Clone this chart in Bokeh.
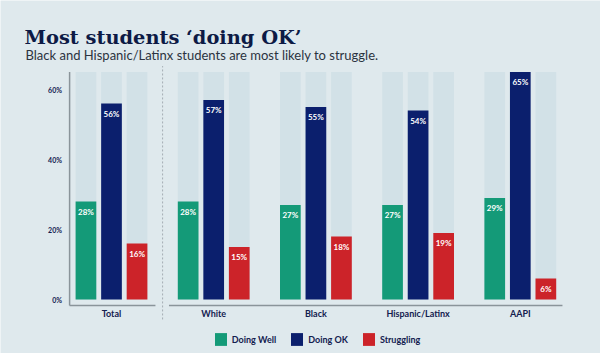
from bokeh.plotting import figure
from bokeh.models import Label, Legend, LegendItem, Range1d
from bokeh.core.properties import value
from bokeh.embed import file_html
from bokeh.resources import INLINE

# ---- data ----
groups = ["Total", "White", "Black", "Hispanic/Latinx", "AAPI"]
doing_well = [28, 28, 27, 27, 29]
doing_ok = [56, 57, 55, 54, 65]
struggling = [16, 15, 18, 19, 6]
series_names = ["Doing Well", "Doing OK", "Struggling"]
y_ticks = [0, 20, 40, 60]
y_tick_labels = ["0%", "20%", "40%", "60%"]
track_max = 65
title_text = "Most students \u2018doing OK\u2019"
subtitle_text = "Black and Hispanic/Latinx students are most likely to struggle."

# ---- style ----
BG = "#dfe9ed"
TRACK = "#d2e1e7"
NAVY_TXT = "#13204f"
colors = ["#149a78", "#0b1f6d", "#cc2329"]
SANS = "Lato"
W, H = 600, 353
PX_X = 25.55      # px per x unit
PX_Y = 3.5        # px per percentage point
X0_PX = 111       # px position of first group center
Y0_PX = 299       # px position of 0%

p = figure(width=W, height=H, output_backend="svg", toolbar_location=None,
           x_range=Range1d(-X0_PX / PX_X, (W - X0_PX) / PX_X),
           y_range=Range1d(-(H - Y0_PX) / PX_Y, Y0_PX / PX_Y),
           x_axis_type=None, y_axis_type=None,
           min_border=0, min_border_left=0, min_border_right=0,
           min_border_top=0, min_border_bottom=0)
p.outline_line_color = None
p.background_fill_color = BG
p.border_fill_color = BG

centers = [4 * i for i in range(len(groups))]
offsets = [-1, 0, 1]
bw = 0.81
series = [doing_well, doing_ok, struggling]

# tracks
for off in offsets:
    p.vbar(x=[c + off for c in centers], top=[track_max] * len(centers), bottom=0,
           width=bw, fill_color=TRACK, line_color=None)

renderers = []
for off, vals, col in zip(offsets, series, colors):
    xs = [c + off for c in centers]
    r = p.vbar(x=xs, top=vals, bottom=0, width=bw, fill_color=col, line_color=None)
    renderers.append(r)
    p.text(x=xs, y=vals, text=[f"{v}%" for v in vals], text_align="center",
           text_baseline="middle", y_offset=10, text_color="white",
           text_font=value(SANS), text_font_style="bold", text_font_size="8px")

# axes
axis_x = -1.64
base_y = -1.7
p.segment(x0=[axis_x], y0=[base_y], x1=[axis_x], y1=[track_max],
          line_color="#8a949a", line_width=1.5)
p.segment(x0=[axis_x, centers[1] - 1.75], y0=[base_y, base_y],
          x1=[centers[0] + 1.72, centers[-1] + 1.65], y1=[base_y, base_y],
          line_color="#8a949a", line_width=1.5)
# separator
sep_x = (centers[0] + centers[1]) / 2
p.segment(x0=[sep_x], y0=[-5.7], x1=[sep_x], y1=[66.7],
          line_color="#a4adb3", line_width=1, line_dash="2 2")

# y tick labels
p.text(x=[axis_x - 0.3] * len(y_ticks), y=y_ticks, text=y_tick_labels,
       text_align="right", text_baseline="middle", text_color=NAVY_TXT,
       text_font=value(SANS), text_font_style="bold", text_font_size="7px")

# category labels
p.text(x=centers, y=[0] * len(centers), text=groups, y_offset=14,
       text_align="center", text_baseline="middle", text_color=NAVY_TXT,
       text_font=value(SANS), text_font_style="bold", text_font_size="9px")

# title / subtitle
p.add_layout(Label(x=24, y=H - 36.7, x_units="screen", y_units="screen",
                   text=title_text, text_font="DejaVu Serif", text_font_style="bold",
                   text_font_size="19.4px", text_color="#0d1a45",
                   text_baseline="alphabetic"))
p.add_layout(Label(x=25, y=H - 54, x_units="screen", y_units="screen",
                   text=subtitle_text, text_font=SANS, text_font_style="normal",
                   text_font_size="13px", text_color="#2b3340",
                   text_baseline="alphabetic"))

legend = Legend(items=[LegendItem(label=n, renderers=[r]) for n, r in zip(series_names, renderers)],
                orientation="horizontal", location=(212.8, 6),
                glyph_width=15, glyph_height=16, label_standoff=4, spacing=13,
                padding=0, margin=0, background_fill_alpha=0, border_line_color=None,
                label_text_font=SANS, label_text_font_style="bold",
                label_text_font_size="9px", label_text_color=NAVY_TXT, label_height=16)
p.add_layout(legend)

open("out.html", "w").write(file_html(p, INLINE))
